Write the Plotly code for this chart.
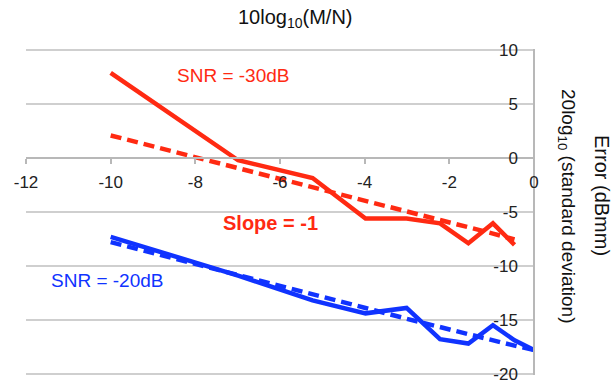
import plotly.graph_objects as go

# x positions: 10log10(M/N)
x_red = [-10, -6.99, -5.23, -3.98, -3.01, -2.22, -1.55, -0.97, -0.46]
x_blue = [-10, -6.99, -5.23, -3.98, -3.01, -2.22, -1.55, -0.97, -0.46, 0]

# SNR = -30dB
red_measured = [7.9, -0.2, -1.85, -5.6, -5.6, -6.05, -7.9, -6.05, -8.05]
red_fit = [2.1, -0.9, -2.7, -3.9, -4.9, -5.7, -6.4, -7.0, -7.55]

# SNR = -20dB
blue_measured = [-7.3, -10.9, -13.2, -14.4, -13.9, -16.8, -17.2, -15.5, -16.9, -17.8]
blue_fit = [-7.8, -10.8, -12.6, -13.9, -14.9, -15.7, -16.35, -16.9, -17.4, -17.8]

x_ticks = [-12, -10, -8, -6, -4, -2, 0]
y_ticks = [-20, -15, -10, -5, 0, 5, 10]

RED = "#ff2a12"
BLUE = "#1033ff"
FONT = "Liberation Sans, Arial, sans-serif"

Y_MIN, Y_MAX = -20.12, 10.12
ML, MR, MT, MB = 26, 79, 49, 8

fig = go.Figure()
fig.add_trace(go.Scatter(x=x_red, y=red_measured, mode="lines",
                         line=dict(color=RED, width=4.5), showlegend=False))
fig.add_trace(go.Scatter(x=x_red, y=red_fit, mode="lines",
                         line=dict(color=RED, width=4.5, dash="11px,6px"), showlegend=False))
fig.add_trace(go.Scatter(x=x_blue, y=blue_measured, mode="lines",
                         line=dict(color=BLUE, width=4.5), showlegend=False))
fig.add_trace(go.Scatter(x=x_blue, y=blue_fit, mode="lines",
                         line=dict(color=BLUE, width=4.5, dash="11px,6px"), showlegend=False))

fig.update_layout(
    width=613, height=383,
    margin=dict(l=ML, r=MR, t=MT, b=MB, pad=0, autoexpand=False),
    paper_bgcolor="white", plot_bgcolor="white",
    font=dict(family=FONT, size=17, color="#222222"),
    xaxis=dict(range=[-12, 0], tickvals=x_ticks, ticktext=[str(v) for v in x_ticks],
               showgrid=False, zeroline=False, showline=True, linecolor="#b8b8b8", linewidth=1.5,
               ticks="outside", ticklen=5, tickcolor="#b8b8b8", tickwidth=1.5,
               anchor="free", position=(0 - Y_MIN) / (Y_MAX - Y_MIN), ticklabelstandoff=4,
               ticklabeloverflow="allow", automargin=False,
               tickfont=dict(size=17, color="#222222")),
    yaxis=dict(range=[Y_MIN, Y_MAX], tickvals=y_ticks, ticktext=[str(v) for v in y_ticks],
               side="left", anchor="free", position=1, ticklabelstandoff=12,
               ticklabeloverflow="allow", automargin=False,
               showgrid=True, gridcolor="#cfcfcf", gridwidth=1.5,
               zeroline=False, showline=True, linecolor="#b8b8b8", linewidth=1.5,
               ticks="", tickfont=dict(size=17, color="#222222")),
    annotations=[
        dict(text="10log<sub>10</sub>(M/N)", x=295, y=383 - 18,
             showarrow=False, font=dict(size=20, color="#111111")),
        dict(text="SNR = -30dB", x=233, y=383 - 75, showarrow=False,
             font=dict(size=19, color=RED)),
        dict(text="<b>Slope = -1</b>", x=270, y=383 - 223, showarrow=False,
             font=dict(size=20, color=RED)),
        dict(text="SNR = -20dB", x=107, y=383 - 280, showarrow=False,
             font=dict(size=19, color=BLUE)),
        dict(text="20log<sub>10</sub> (standard deviation)", x=567, y=383 - 206, showarrow=False,
             textangle=90, font=dict(size=19, color="#111111")),
        dict(text="Error (dBmm)", x=602, y=383 - 195, showarrow=False,
             textangle=90, font=dict(size=20, color="#111111")),
    ],
)

# convert pixel-placed annotations to paper coordinates
pw, ph = 613 - ML - MR, 383 - MT - MB
new_ann = []
for a in fig.layout.annotations:
    a = a.to_plotly_json()
    px, py = a["x"], a["y"]
    a["x"] = (px - ML) / pw
    a["y"] = (py - MB) / ph
    a["xref"] = "paper"
    a["yref"] = "paper"
    a["xanchor"] = "center"
    a["yanchor"] = "middle"
    new_ann.append(a)
fig.layout.annotations = new_ann

fig.write_html("out.html")
